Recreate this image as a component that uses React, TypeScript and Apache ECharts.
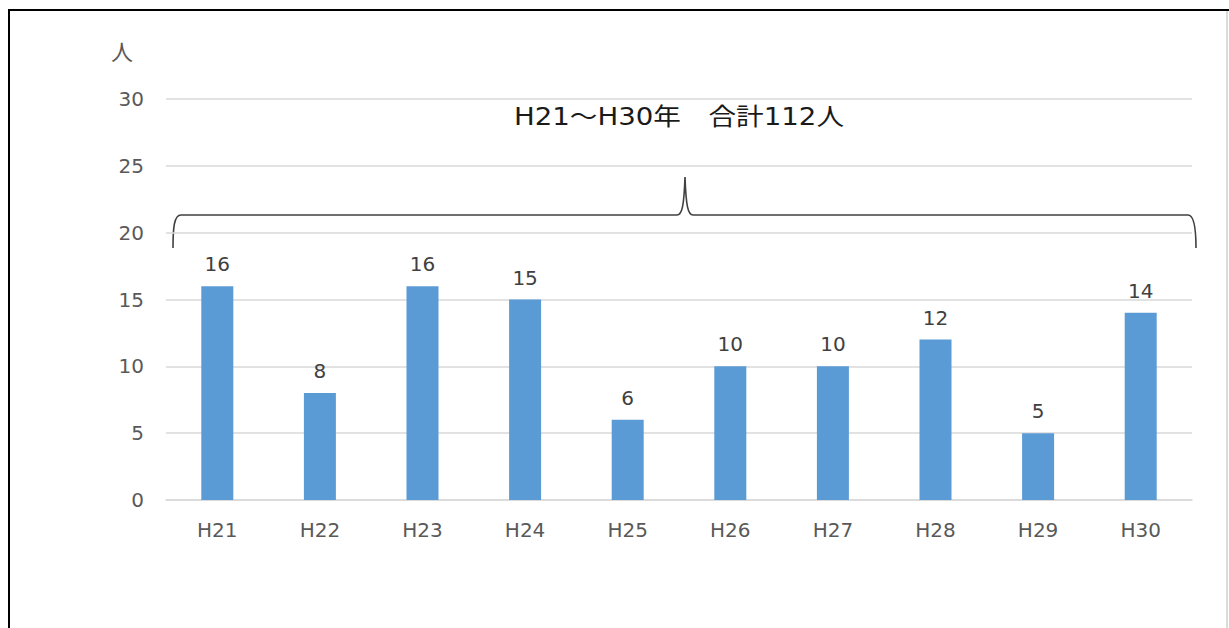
import React, { useEffect, useRef } from "react";
import * as echarts from "echarts";

const categories = ["H21", "H22", "H23", "H24", "H25", "H26", "H27", "H28", "H29", "H30"];
const values = [16, 8, 16, 15, 6, 10, 10, 12, 5, 14];
const yTicks = { min: 0, max: 30, interval: 5 };
const unitLabel = "人";
const totalLabel = "H21～H30年　合計112人";

const braceD =
  "M173,248 C173,228 174,215 181,215 L677,215 C682,215 684,206 685,177 C686,206 688,215 693,215 L1188,215 C1194,215 1196,228 1196,248";

let registered = false;

export default function App() {
  const ref = useRef<HTMLDivElement>(null);
  useEffect(() => {
    document.body.style.margin = "0";
    if (!registered) {
      echarts.graphic.registerShape("brace", echarts.graphic.extendPath(braceD, {}));
      registered = true;
    }
    const chart = echarts.init(ref.current!, null, { renderer: "svg" });
    const font = "'DejaVu Sans', 'Noto Sans CJK JP', sans-serif";
    chart.setOption({
      animation: false,
      backgroundColor: "#ffffff",
      grid: { left: 166, right: 37, top: 99, bottom: 128, containLabel: false },
      xAxis: {
        type: "category",
        data: categories,
        axisLine: { lineStyle: { color: "#d9d9d9", width: 1.5 } },
        axisTick: { show: false },
        axisLabel: { color: "#595959", fontSize: 20, fontFamily: font, margin: 20 },
      },
      yAxis: {
        type: "value",
        min: yTicks.min,
        max: yTicks.max,
        interval: yTicks.interval,
        axisLine: { show: false },
        axisTick: { show: false },
        axisLabel: { color: "#595959", fontSize: 20, fontFamily: font, margin: 22 },
        splitLine: { lineStyle: { color: "#d9d9d9", width: 1.5 } },
      },
      series: [
        {
          type: "bar",
          data: values,
          barWidth: 32,
          itemStyle: { color: "#5b9bd5" },
          label: {
            show: true,
            position: "top",
            distance: 12,
            color: "#404040",
            fontSize: 20,
            fontFamily: font,
          },
        },
      ],
      graphic: [
        { type: "line", shape: { x1: 8, y1: 10, x2: 1229, y2: 10 }, style: { stroke: "#000", lineWidth: 2 } },
        { type: "line", shape: { x1: 9, y1: 9, x2: 9, y2: 628 }, style: { stroke: "#000", lineWidth: 2 } },
        { type: "line", shape: { x1: 1227, y1: 11, x2: 1227, y2: 628 }, style: { stroke: "#cfcfcf", lineWidth: 1.5 } },
        {
          type: "text",
          x: 122,
          y: 52,
          style: {
            text: unitLabel,
            fill: "#595959",
            fontSize: 22,
            fontFamily: font,
            align: "center",
            verticalAlign: "middle",
          },
        },
        {
          type: "text",
          x: 679,
          y: 117,
          scaleX: 1.15,
          style: {
            text: totalLabel,
            fill: "#1a1a1a",
            fontSize: 24,
            fontFamily: font,
            align: "center",
            verticalAlign: "middle",
          },
        },
        {
          type: "brace",
          x: 0,
          y: 0,
          style: { stroke: "#404040", lineWidth: 1.6, fill: "none" },
        },
      ],
    });
    return () => chart.dispose();
  }, []);
  return <div ref={ref} style={{ width: 1229, height: 628 }} />;
}
